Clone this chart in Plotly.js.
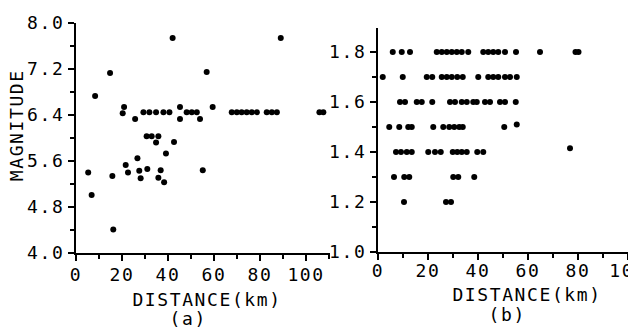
<!DOCTYPE html>
<html>
<head>
<meta charset="utf-8">
<script src="https://cdn.plot.ly/plotly-3.0.1.min.js"></script>
<style>
  html, body { margin: 0; padding: 0; background: #fff; }
  #chart { width: 628px; height: 328px; }
  #chart text { letter-spacing: 1.6px; }
</style>
</head>
<body>
<div id="chart"></div>
<script>
// Panel (a): distance (km) vs magnitude
const distA = [42, 89, 14.8, 8.3, 56.8, 20.9, 20.3, 25.7,
  29.3, 31.9, 34.8, 38, 40.6, 45.2, 45.2, 48.1, 50.3, 52.5, 53.9, 59.4,
  67.7, 69.9, 72.0, 74.2, 76.4, 78.6, 82.9, 85.1, 87.3, 105.8, 107.5,
  30.7, 32.9, 35.8, 34.8, 42.6, 39.1, 26.7, 21.6,
  5.3, 6.8, 15.8, 16.2, 22.6, 27.5, 28.1, 31, 36.8, 35.8, 38.3, 55.1];
const magA = [7.74, 7.74, 7.13, 6.73, 7.15, 6.54, 6.43, 6.33,
  6.45, 6.45, 6.45, 6.45, 6.45, 6.54, 6.33, 6.45, 6.45, 6.45, 6.33, 6.54,
  6.45, 6.45, 6.45, 6.45, 6.45, 6.45, 6.45, 6.45, 6.45, 6.45, 6.45,
  6.03, 6.03, 6.03, 5.92, 5.93, 5.73, 5.65, 5.53,
  5.40, 5.01, 5.34, 4.41, 5.40, 5.43, 5.30, 5.46, 5.44, 5.31, 5.23, 5.44];

// Panel (b): distance (km) vs value
const distB = [
  5.9, 9.5, 12.8, 23.5, 25.5, 27.5, 29.5, 31.5, 33.5, 36.1, 42.1, 44.1, 46.1, 48.1, 50.8, 55.2, 64.8, 79.0, 80.2,
  1.9, 9.9, 19.5, 21.7, 25.5, 27.5, 29.5, 31.7, 33.9, 40.1, 44.1, 46.1, 48.1, 50.8, 52.8, 55.5,
  8.8, 10.8, 15.5, 17.5, 21.7, 28.8, 30.8, 33.5, 35.5, 38.1, 39.5, 42.8, 44.8, 48.8, 50.8, 55.1,
  4.5, 8.5, 12.1, 13.5, 22.1, 26.1, 28.5, 30.5, 32.5, 33.9, 50.5, 55.5,
  7.2, 9.2, 11.5, 13.5, 20.1, 22.8, 25.1, 29.9, 31.7, 33.5, 35.5, 39.7, 42.1, 76.8,
  6.4, 10.5, 12.5, 30.1, 32.1, 38.5,
  10.4, 27.2, 29.2];
const valueB = [
  1.8, 1.8, 1.8, 1.8, 1.8, 1.8, 1.8, 1.8, 1.8, 1.8, 1.8, 1.8, 1.8, 1.8, 1.8, 1.8, 1.8, 1.8, 1.8,
  1.7, 1.7, 1.7, 1.7, 1.7, 1.7, 1.7, 1.7, 1.7, 1.7, 1.7, 1.7, 1.7, 1.7, 1.7, 1.7,
  1.6, 1.6, 1.6, 1.6, 1.6, 1.6, 1.6, 1.6, 1.6, 1.6, 1.6, 1.6, 1.6, 1.6, 1.6, 1.6,
  1.5, 1.5, 1.5, 1.5, 1.5, 1.5, 1.5, 1.5, 1.5, 1.5, 1.5, 1.51,
  1.4, 1.4, 1.4, 1.4, 1.4, 1.4, 1.4, 1.4, 1.4, 1.4, 1.4, 1.4, 1.4, 1.415,
  1.3, 1.3, 1.3, 1.3, 1.3, 1.3,
  1.2, 1.2, 1.2];

const ticksXA = [0, 20, 40, 60, 80, 100];
const ticksYA = [4.0, 4.8, 5.6, 6.4, 7.2, 8.0];
const ticksXB = [0, 20, 40, 60, 80, 100];
const ticksYB = [1.0, 1.2, 1.4, 1.6, 1.8];

const W = 628, H = 328;
const px = v => v / W;
const py = v => 1 - v / H;

const FONT = 'DejaVu Sans Mono';
const tickFont = {family: FONT, size: 18, color: '#000'};

const marker = {color: '#000', size: 6, symbol: 'circle'};

const traces = [
  {x: distA, y: magA, xaxis: 'x', yaxis: 'y', type: 'scatter', mode: 'markers',
   marker: marker, cliponaxis: false, hoverinfo: 'skip'},
  {x: distB, y: valueB, xaxis: 'x2', yaxis: 'y2', type: 'scatter', mode: 'markers',
   marker: marker, cliponaxis: false, hoverinfo: 'skip'}
];

function axisBase() {
  return {
    showline: true, linecolor: '#000', linewidth: 2,
    ticks: 'outside', ticklen: 6, tickwidth: 2, tickcolor: '#000',
    showgrid: false, zeroline: false, tickfont: tickFont,
    ticklabeloverflow: 'allow', fixedrange: true
  };
}

const layout = {
  width: W, height: H,
  margin: {l: 0, r: 0, t: 0, b: 0, pad: 0},
  paper_bgcolor: '#fff', plot_bgcolor: '#fff',
  showlegend: false,
  xaxis: Object.assign(axisBase(), {
    domain: [px(76), px(330)], range: [0, 110.4], anchor: 'y',
    tickmode: 'array', tickvals: ticksXA, ticktext: ticksXA.map(String),
    ticklabelstandoff: -2,
    minor: {dtick: 10, tick0: 0, ticks: 'outside', ticklen: 4, tickwidth: 2, tickcolor: '#000'}
  }),
  yaxis: Object.assign(axisBase(), {
    domain: [py(253), py(23)], range: [4.0, 8.0], anchor: 'x',
    tickmode: 'array', tickvals: ticksYA, ticktext: ticksYA.map(v => v.toFixed(1)),
    minor: {dtick: 0.4, tick0: 4.0, ticks: 'outside', ticklen: 4, tickwidth: 2, tickcolor: '#000'}
  }),
  xaxis2: Object.assign(axisBase(), {
    domain: [px(378), 1], range: [0, 100], anchor: 'y2',
    tickmode: 'array', tickvals: ticksXB, ticktext: ticksXB.map(String),
    ticklabelstandoff: -5,
    minor: {dtick: 10, tick0: 0, ticks: 'outside', ticklen: 4, tickwidth: 2, tickcolor: '#000'}
  }),
  yaxis2: Object.assign(axisBase(), {
    domain: [py(252), py(28)], range: [1.0, 1.896], anchor: 'x2',
    tickmode: 'array', tickvals: ticksYB, ticktext: ticksYB.map(v => v.toFixed(1)),
    minor: {dtick: 0.1, tick0: 1.0, ticks: 'outside', ticklen: 4, tickwidth: 2, tickcolor: '#000'}
  }),
  annotations: [
    {text: 'MAGNITUDE', xref: 'paper', yref: 'paper', x: px(16), y: py(125),
     xanchor: 'center', yanchor: 'middle', textangle: -90, showarrow: false,
     font: {family: FONT, size: 18, color: '#000'}},
    {text: 'DISTANCE(km)', xref: 'paper', yref: 'paper', x: px(207), y: py(299),
     xanchor: 'center', yanchor: 'middle', showarrow: false,
     font: {family: FONT, size: 18, color: '#000'}},
    {text: '(a)', xref: 'paper', yref: 'paper', x: px(188), y: py(318),
     xanchor: 'center', yanchor: 'middle', showarrow: false,
     font: {family: FONT, size: 18, color: '#000'}},
    {text: 'DISTANCE(km)', xref: 'paper', yref: 'paper', x: px(527), y: py(294),
     xanchor: 'center', yanchor: 'middle', showarrow: false,
     font: {family: FONT, size: 18, color: '#000'}},
    {text: '(b)', xref: 'paper', yref: 'paper', x: px(507), y: py(314),
     xanchor: 'center', yanchor: 'middle', showarrow: false,
     font: {family: FONT, size: 18, color: '#000'}}
  ]
};

Plotly.newPlot('chart', traces, layout, {staticPlot: true, displayModeBar: false});
</script>
</body>
</html>
